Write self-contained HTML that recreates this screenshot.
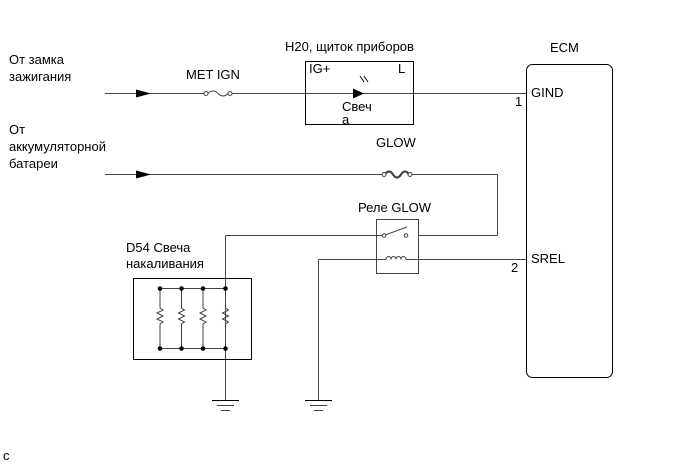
<!DOCTYPE html>
<html><head><meta charset="utf-8"><style>
html,body{margin:0;padding:0;background:#fff}
svg{display:block}
text{font-family:"Liberation Sans",sans-serif;font-size:13px;fill:#000}
</style></head><body>
<svg width="690" height="465" viewBox="0 0 690 465" xmlns="http://www.w3.org/2000/svg">
<g stroke="#444" stroke-width="1" fill="none">
<line x1="105" y1="93.5" x2="206" y2="93.5"/>
<line x1="232" y1="93.5" x2="527" y2="93.5"/>
<path d="M208 93.5 q5 -5 10 0 t10 0" />
<circle cx="206" cy="93.5" r="2" fill="#fff"/>
<circle cx="230" cy="93.5" r="2" fill="#fff"/>
<rect x="305.5" y="61.5" width="108" height="63" stroke="#000"/>
<line x1="105" y1="174.5" x2="383" y2="174.5"/>
<line x1="411" y1="174.5" x2="497.5" y2="174.5"/>
<line x1="497.5" y1="174.5" x2="497.5" y2="235.5"/>
<path d="M385 174.5 q4 -6 8 0 t8 0 t8 0" stroke-width="2.2"/>
<circle cx="384" cy="174.5" r="2" fill="#fff"/>
<circle cx="410" cy="174.5" r="2" fill="#fff"/>
<rect x="376.5" y="219.5" width="42" height="54"/>
<line x1="418" y1="235.5" x2="497.5" y2="235.5"/>
<line x1="225.5" y1="235.5" x2="384" y2="235.5"/>
<line x1="385" y1="235" x2="407" y2="227"/>
<circle cx="384" cy="235.5" r="1.8" fill="#fff"/>
<circle cx="406" cy="235.5" r="1.8" fill="#fff"/>
<path d="M386 259.5 a2.5 3 0 0 1 5 0 a2.5 3 0 0 1 5 0 a2.5 3 0 0 1 5 0 a2.5 3 0 0 1 5 0"/>
<line x1="318.5" y1="259.5" x2="386" y2="259.5"/>
<line x1="406" y1="259.5" x2="527" y2="259.5"/>
<line x1="318.5" y1="259.5" x2="318.5" y2="400"/>
<line x1="225.5" y1="235.5" x2="225.5" y2="400"/>
<line x1="212" y1="400.5" x2="239" y2="400.5" stroke="#000"/>
<line x1="217" y1="405.5" x2="234" y2="405.5"/>
<line x1="221" y1="410.5" x2="230" y2="410.5"/>
<line x1="305" y1="400.5" x2="332" y2="400.5" stroke="#000"/>
<line x1="310" y1="405.5" x2="327" y2="405.5"/>
<line x1="314" y1="410.5" x2="323" y2="410.5"/>
<rect x="133.5" y="278.5" width="118" height="81" stroke="#000"/>
<line x1="160" y1="288.5" x2="225.5" y2="288.5"/>
<line x1="160" y1="348.5" x2="225.5" y2="348.5"/>
<g id="r">
<path d="M160 288.5 V308 l3 2 l-6 3 l6 3 l-6 3 l6 3 l-3 2 V348.5"/>
</g>
<use href="#r" x="21.5"/><use href="#r" x="43"/><use href="#r" x="65.5"/>
<rect x="526.5" y="64.5" width="86" height="313" rx="6" stroke="#000"/>
</g>
<g fill="#000">
<polygon points="136,89.5 151,93.5 136,97.5"/>
<polygon points="136,170.5 151,174.5 136,178.5"/>
<polygon points="353,88.5 364,93.5 353,98.5"/>
<circle cx="160" cy="288.5" r="2.3"/><circle cx="181.5" cy="288.5" r="2.3"/><circle cx="203" cy="288.5" r="2.3"/><circle cx="225.5" cy="288.5" r="2.3"/>
<circle cx="160" cy="348.5" r="2.3"/><circle cx="181.5" cy="348.5" r="2.3"/><circle cx="203" cy="348.5" r="2.3"/><circle cx="225.5" cy="348.5" r="2.3"/>
</g>
<g stroke="#000" stroke-width="1">
<line x1="364" y1="82" x2="360" y2="76"/><line x1="368" y1="82" x2="364" y2="76"/>
</g>
<text x="9" y="64">От замка</text>
<text x="9" y="81">зажигания</text>
<text x="9" y="134">От</text>
<text x="9" y="151">аккумуляторной</text>
<text x="9" y="168">батареи</text>
<text x="186" y="79">MET IGN</text>
<text x="285" y="51">H20, щиток приборов</text>
<text x="309" y="73">IG+</text>
<text x="398" y="73">L</text>
<text x="342" y="111">Свеч</text>
<text x="342" y="124">а</text>
<text x="550" y="52">ECM</text>
<text x="531" y="97">GIND</text>
<text x="515" y="106">1</text>
<text x="531" y="263">SREL</text>
<text x="511" y="272">2</text>
<text x="376" y="147">GLOW</text>
<text x="358" y="212">Реле GLOW</text>
<text x="126" y="252">D54 Свеча</text>
<text x="126" y="268">накаливания</text>
<text x="3" y="460">c</text>
</svg>
</body></html>
